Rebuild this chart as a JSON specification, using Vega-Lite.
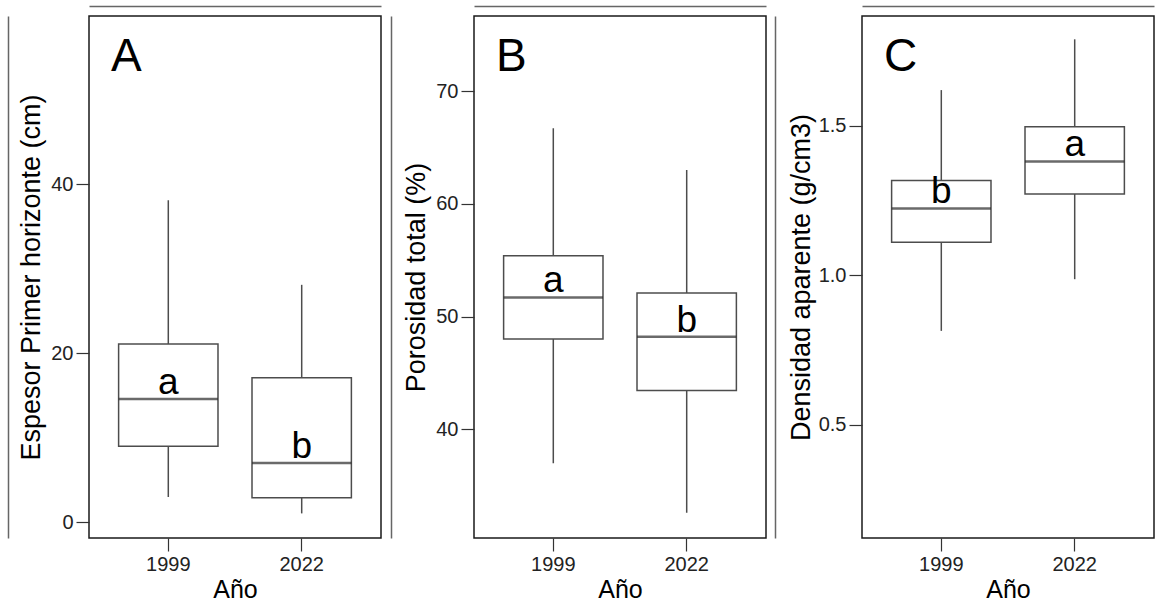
{
  "$schema": "https://vega.github.io/schema/vega-lite/v6.json",
  "padding": {"left": 7, "top": 5, "right": 5, "bottom": 5},
  "background": "white",
  "spacing": 10,
  "config": {
    "font": "Liberation Sans",
    "view": {"stroke": "#1a1a1a", "strokeWidth": 1.5},
    "axis": {"domain": false, "grid": false, "tickColor": "#333", "tickSize": 13, "tickWidth": 1.2, "labelFont": "Liberation Sans", "labelFontSize": 20, "labelColor": "#222", "labelPadding": 3, "titleFont": "Liberation Sans", "titleFontSize": 25, "titleFontWeight": "normal", "titleColor": "#000"},
    "axisY": {"titleFontSize": 27},
    "title": {"font": "Liberation Sans"}
  },
  "datasets": {
    "A": [
      {"year": "1999", "min": 3.0, "q1": 9.0, "median": 14.6, "q3": 21.1, "max": 38.1, "label": "a"},
      {"year": "2022", "min": 1.06, "q1": 2.9, "median": 7.03, "q3": 17.1, "max": 28.1, "label": "b"}
    ],
    "B": [
      {"year": "1999", "min": 37.0, "q1": 48.0, "median": 51.7, "q3": 55.4, "max": 66.7, "label": "a"},
      {"year": "2022", "min": 32.6, "q1": 43.45, "median": 48.2, "q3": 52.1, "max": 63.0, "label": "b"}
    ],
    "C": [
      {"year": "1999", "min": 0.814, "q1": 1.111, "median": 1.224, "q3": 1.317, "max": 1.62, "label": "b"},
      {"year": "2022", "min": 0.987, "q1": 1.272, "median": 1.381, "q3": 1.497, "max": 1.79, "label": "a"}
    ]
  },
  "hconcat": [
    {
      "width": 292, "height": 522,
      "data": {"name": "A"},
      "title": {"text": "A", "anchor": "start", "frame": "group", "fontSize": 46, "fontWeight": "normal", "baseline": "alphabetic", "offset": -111, "dx": 22, "color": "#000"},
      "layer": [
        {
          "encoding": {"x": {"field": "year", "type": "nominal", "scale": {"paddingInner": 0, "paddingOuter": 0.0945}, "axis": {"title": "Año", "labelAngle": 0, "titlePadding": 3}}},
          "layer": [
            {"mark": {"type": "rule", "color": "#4d4d4d", "strokeWidth": 1.5}, "encoding": {"y": {"field": "min", "type": "quantitative", "scale": {"domain": [-1.85, 59.9], "nice": false, "zero": false}, "axis": {"title": "Espesor Primer horizonte (cm)", "values": [0, 20, 40], "titlePadding": 5}}, "y2": {"field": "max"}}},
            {"mark": {"type": "bar", "fill": "white", "stroke": "#4d4d4d", "strokeWidth": 1.5, "width": {"band": 0.745}}, "encoding": {"y": {"field": "q1", "type": "quantitative"}, "y2": {"field": "q3"}}},
            {"mark": {"type": "tick", "color": "#2b2b2b", "thickness": 2.5, "size": 99.4}, "encoding": {"y": {"field": "median", "type": "quantitative"}}},
            {"mark": {"type": "text", "fontSize": 37, "dy": -5, "baseline": "alphabetic", "color": "#000"}, "encoding": {"y": {"field": "median", "type": "quantitative"}, "text": {"field": "label"}}}
          ]
        },
        {"mark": {"type": "point", "opacity": 0}, "encoding": {
          "x": {"field": "year", "type": "nominal", "axis": {"orient": "top", "offset": 10, "ticks": false, "labels": false, "domain": true, "domainColor": "#666", "domainWidth": 1.5, "title": null}},
          "y": {"field": "min", "type": "quantitative", "axis": {"orient": "right", "offset": 10, "ticks": false, "labels": false, "domain": true, "domainColor": "#666", "domainWidth": 1.5, "title": null}}}},
        {"mark": {"type": "point", "opacity": 0}, "encoding": {
          "y": {"field": "max", "type": "quantitative", "axis": {"orient": "left", "offset": 81, "ticks": false, "labels": false, "domain": true, "domainColor": "#666", "domainWidth": 1.5, "title": null}}}}
      ],
      "resolve": {"scale": {"x": "independent", "y": "independent"}}
    },
    {
      "width": 292, "height": 522,
      "data": {"name": "B"},
      "title": {"text": "B", "anchor": "start", "frame": "group", "fontSize": 46, "fontWeight": "normal", "baseline": "alphabetic", "offset": -111, "dx": 22, "color": "#000"},
      "layer": [
        {
          "encoding": {"x": {"field": "year", "type": "nominal", "scale": {"paddingInner": 0, "paddingOuter": 0.0945}, "axis": {"title": "Año", "labelAngle": 0, "titlePadding": 3}}},
          "layer": [
            {"mark": {"type": "rule", "color": "#4d4d4d", "strokeWidth": 1.5}, "encoding": {"y": {"field": "min", "type": "quantitative", "scale": {"domain": [30.36, 76.66], "nice": false, "zero": false}, "axis": {"title": "Porosidad total (%)", "values": [40, 50, 60, 70], "titlePadding": 5}}, "y2": {"field": "max"}}},
            {"mark": {"type": "bar", "fill": "white", "stroke": "#4d4d4d", "strokeWidth": 1.5, "width": {"band": 0.745}}, "encoding": {"y": {"field": "q1", "type": "quantitative"}, "y2": {"field": "q3"}}},
            {"mark": {"type": "tick", "color": "#2b2b2b", "thickness": 2.5, "size": 99.4}, "encoding": {"y": {"field": "median", "type": "quantitative"}}},
            {"mark": {"type": "text", "fontSize": 37, "dy": -5, "baseline": "alphabetic", "color": "#000"}, "encoding": {"y": {"field": "median", "type": "quantitative"}, "text": {"field": "label"}}}
          ]
        },
        {"mark": {"type": "point", "opacity": 0}, "encoding": {
          "x": {"field": "year", "type": "nominal", "axis": {"orient": "top", "offset": 10, "ticks": false, "labels": false, "domain": true, "domainColor": "#666", "domainWidth": 1.5, "title": null}},
          "y": {"field": "min", "type": "quantitative", "axis": {"orient": "right", "offset": 9, "ticks": false, "labels": false, "domain": true, "domainColor": "#666", "domainWidth": 1.5, "title": null}}}}
      ],
      "resolve": {"scale": {"x": "independent", "y": "independent"}}
    },
    {
      "width": 292, "height": 522,
      "data": {"name": "C"},
      "title": {"text": "C", "anchor": "start", "frame": "group", "fontSize": 46, "fontWeight": "normal", "baseline": "alphabetic", "offset": -111, "dx": 22, "color": "#000"},
      "layer": [
        {
          "encoding": {"x": {"field": "year", "type": "nominal", "scale": {"paddingInner": 0, "paddingOuter": 0.0945}, "axis": {"title": "Año", "labelAngle": 0, "titlePadding": 3}}},
          "layer": [
            {"mark": {"type": "rule", "color": "#4d4d4d", "strokeWidth": 1.5}, "encoding": {"y": {"field": "min", "type": "quantitative", "scale": {"domain": [0.1207, 1.868], "nice": false, "zero": false}, "axis": {"title": "Densidad aparente (g/cm3)", "values": [0.5, 1.0, 1.5], "format": ".1f", "titlePadding": 3}}, "y2": {"field": "max"}}},
            {"mark": {"type": "bar", "fill": "white", "stroke": "#4d4d4d", "strokeWidth": 1.5, "width": {"band": 0.745}}, "encoding": {"y": {"field": "q1", "type": "quantitative"}, "y2": {"field": "q3"}}},
            {"mark": {"type": "tick", "color": "#2b2b2b", "thickness": 2.5, "size": 99.4}, "encoding": {"y": {"field": "median", "type": "quantitative"}}},
            {"mark": {"type": "text", "fontSize": 37, "dy": -5, "baseline": "alphabetic", "color": "#000"}, "encoding": {"y": {"field": "median", "type": "quantitative"}, "text": {"field": "label"}}}
          ]
        },
        {"mark": {"type": "point", "opacity": 0}, "encoding": {
          "x": {"field": "year", "type": "nominal", "axis": {"orient": "top", "offset": 10, "ticks": false, "labels": false, "domain": true, "domainColor": "#666", "domainWidth": 1.5, "title": null}}}}
      ],
      "resolve": {"scale": {"x": "independent", "y": "independent"}}
    }
  ]
}
